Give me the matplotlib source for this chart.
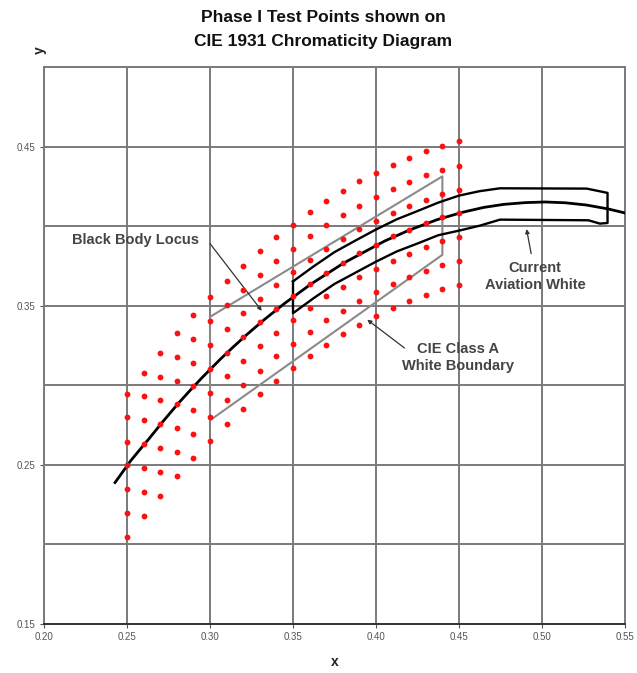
import numpy as np
import matplotlib
matplotlib.use("Agg")
import matplotlib.pyplot as plt
from matplotlib.ticker import MultipleLocator, FormatStrFormatter

plt.rcParams['font.family'] = ['Liberation Sans', 'DejaVu Sans']

# test point columns (x) and their y values, top to bottom
dot_x = [0.25, 0.26, 0.27, 0.28, 0.29, 0.30, 0.31, 0.32, 0.33, 0.34, 0.35,
         0.36, 0.37, 0.38, 0.39, 0.40, 0.41, 0.42, 0.43, 0.44, 0.45]
dot_y = [
    [0.2945, 0.2798, 0.2643, 0.2500, 0.2347, 0.2196, 0.2045],
    [0.3077, 0.2930, 0.2783, 0.2630, 0.2479, 0.2332, 0.2181],
    [0.3206, 0.3055, 0.2909, 0.2756, 0.2605, 0.2458, 0.2305],
    [0.3328, 0.3177, 0.3028, 0.2882, 0.2731, 0.2580, 0.2431],
    [0.3443, 0.3292, 0.3143, 0.2997, 0.2846, 0.2695, 0.2546],
    [0.3555, 0.3401, 0.3255, 0.3102, 0.2951, 0.2802, 0.2653],
    [0.3657, 0.3506, 0.3353, 0.3206, 0.3060, 0.2909, 0.2756],
    [0.3752, 0.3601, 0.3454, 0.3303, 0.3150, 0.3003, 0.2852],
    [0.3846, 0.3695, 0.3544, 0.3395, 0.3244, 0.3093, 0.2945],
    [0.3932, 0.3779, 0.3628, 0.3479, 0.3328, 0.3181, 0.3028],
    [0.4010, 0.3858, 0.3710, 0.3559, 0.3412, 0.3259, 0.3108],
    [0.4087, 0.3936, 0.3785, 0.3637, 0.3486, 0.3335, 0.3186],
    [0.4156, 0.4010, 0.3858, 0.3706, 0.3559, 0.3408, 0.3255],
    [0.4223, 0.4072, 0.3921, 0.3769, 0.3618, 0.3470, 0.3322],
    [0.4282, 0.4129, 0.3982, 0.3831, 0.3681, 0.3527, 0.3381],
    [0.4335, 0.4184, 0.4035, 0.3884, 0.3733, 0.3584, 0.3433],
    [0.4387, 0.4234, 0.4083, 0.3936, 0.3783, 0.3637, 0.3486],
    [0.4429, 0.4278, 0.4129, 0.3978, 0.3827, 0.3678, 0.3527],
    [0.4471, 0.4320, 0.4167, 0.4020, 0.3869, 0.3720, 0.3569],
    [0.4506, 0.4355, 0.4203, 0.4055, 0.3904, 0.3754, 0.3605],
    [0.4533, 0.4380, 0.4230, 0.4083, 0.3932, 0.3783, 0.3632],
]

# black body locus
locus_x = [0.2428, 0.2470, 0.2520, 0.2565, 0.2637, 0.2720, 0.2807, 0.2880, 0.2952,
           0.3064, 0.3135, 0.3221, 0.3325, 0.3451, 0.3608, 0.3805, 0.4053, 0.4200,
           0.4369, 0.4520, 0.4650, 0.4770, 0.4900, 0.5020, 0.5140, 0.5267, 0.5400,
           0.5500]
locus_y = [0.2389, 0.2450, 0.2523, 0.2580, 0.2670, 0.2777, 0.2884, 0.2968, 0.3048,
           0.3166, 0.3236, 0.3318, 0.3411, 0.3516, 0.3636, 0.3768, 0.3907, 0.3975,
           0.4041, 0.4087, 0.4118, 0.4137, 0.4148, 0.4152, 0.4147, 0.4133, 0.4108,
           0.4083]

# current aviation white outline
avw_x = [0.35, 0.3625, 0.375, 0.3875, 0.40, 0.4125, 0.425, 0.4375, 0.45, 0.4625,
         0.4747, 0.527, 0.5395, 0.5395, 0.5349, 0.528, 0.4747, 0.4625, 0.45,
         0.4375, 0.425, 0.4125, 0.40, 0.3875, 0.375, 0.3625, 0.35, 0.35]
avw_y = [0.3653, 0.3748, 0.3837, 0.3909, 0.3979, 0.4043, 0.4095, 0.4148, 0.4192,
         0.4220, 0.4238, 0.4236, 0.4209, 0.4020, 0.4016, 0.4037, 0.4041, 0.4003,
         0.3972, 0.3943, 0.3891, 0.3841, 0.3777, 0.3707, 0.3637, 0.3548, 0.3453,
         0.3653]

# CIE class A white boundary
cie_x = [0.30, 0.44, 0.44, 0.30, 0.30]
cie_y = [0.343, 0.4313, 0.382, 0.278, 0.343]

fig = plt.figure(figsize=(6.37, 6.73), dpi=100)
ax = fig.add_axes([0.0691, 0.0728, 0.9120, 0.8276])

ax.set_xlim(0.20, 0.55)
ax.set_ylim(0.15, 0.50)

grid_c = '#7a7a7a'
ax.xaxis.set_major_locator(MultipleLocator(0.05))
ax.yaxis.set_minor_locator(MultipleLocator(0.05))
ax.set_yticks([0.15, 0.25, 0.35, 0.45])
ax.xaxis.set_major_formatter(FormatStrFormatter('%.2f'))
ax.yaxis.set_major_formatter(FormatStrFormatter('%.2f'))
ax.grid(True, which='both', color=grid_c, lw=1.4, zorder=0)
ax.tick_params(which='major', labelsize=7, labelcolor='#555555', color='#555555',
               length=3, width=0.8, pad=3)
ax.tick_params(which='minor', length=0)
for s in ax.spines.values():
    s.set_color(grid_c)
    s.set_linewidth(1.4)
ax.spines['bottom'].set_color('#333333')

ax.plot(cie_x, cie_y, color='#8a8a8a', lw=1.5, zorder=2)
ax.plot(avw_x, avw_y, color='black', lw=1.7, zorder=3)
ax.plot(locus_x, locus_y, color='black', lw=2.0, zorder=3)

for xv, col in zip(dot_x, dot_y):
    ax.plot([xv] * len(col), col, 'o', color='#ff1010', ms=4.2, mec='none', zorder=4)

txt_c = '#444444'
ax.text(0.2169, 0.3915, 'Black Body Locus', fontsize=10.5, fontweight='bold',
        color=txt_c, ha='left', va='center')
ax.annotate('', xy=(0.3322, 0.3454), xytext=(0.299, 0.3904),
            arrowprops=dict(arrowstyle='-|>', color='#333333', lw=0.9, mutation_scale=6))

ax.text(0.4958, 0.3684, 'Current\nAviation White', fontsize=10.5, fontweight='bold',
        color=txt_c, ha='center', va='center', linespacing=1.25)
ax.annotate('', xy=(0.4904, 0.3999), xytext=(0.4938, 0.381),
            arrowprops=dict(arrowstyle='-|>', color='#333333', lw=0.9, mutation_scale=6))

ax.text(0.4492, 0.3175, 'CIE Class A\nWhite Boundary', fontsize=10.5, fontweight='bold',
        color=txt_c, ha='center', va='center', linespacing=1.25)
ax.annotate('', xy=(0.3934, 0.3423), xytext=(0.4185, 0.3224),
            arrowprops=dict(arrowstyle='-|>', color='#333333', lw=0.9, mutation_scale=6))

fig.text(0.507, 0.956, 'Phase I Test Points shown on\nCIE 1931 Chromaticity Diagram',
         fontsize=12.5, fontweight='bold', color='#111111', ha='center', va='center',
         linespacing=1.7)
fig.text(0.526, 0.016, 'x', fontsize=10, fontweight='bold', color='#222222',
         ha='center', va='center')
fig.text(0.063, 0.925, 'y', fontsize=10, fontweight='bold', color='#222222',
         ha='center', va='center', rotation=90)

fig.savefig('out.png', dpi=100)
